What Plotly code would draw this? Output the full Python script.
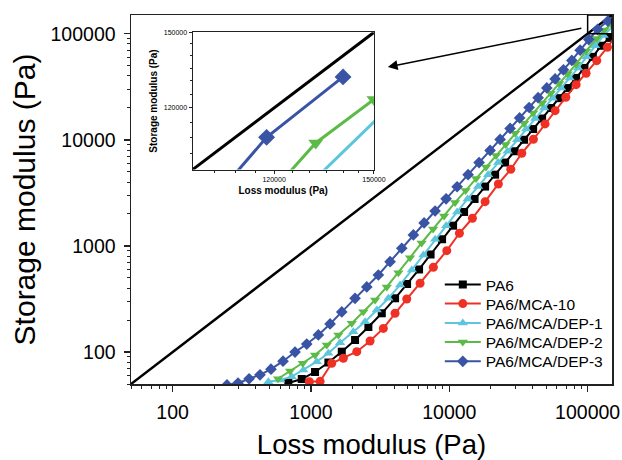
import math
import plotly.graph_objects as go

# ---------------- data ----------------
loss_pa6 = [686, 858, 1070, 1336, 1670, 2083, 2600, 3250, 4055, 4952, 6046, 7322, 8867, 10650,
            12790, 15230, 18150, 21440, 25320, 29660, 34740, 40360, 46870, 54450, 62520, 71920,
            82560, 94800, 109000, 125200, 144200, 166100]
stor_pa6 = [51.1, 55.7, 64.9, 79.7, 100.8, 129.9, 172.3, 231.9, 321.1, 437.9, 600.1, 830.6, 1156,
            1552, 2090, 2771, 3627, 4695, 6105, 7802, 10010, 12630, 15870, 19930, 24700, 30750,
            38290, 47560, 60510, 77000, 91200, 115800]

loss_mca10 = [973, 1164, 1413, 1714, 2143, 2674, 3337, 4055, 4924, 6148, 7670, 9590, 11830, 14690,
              18150, 22630, 27830, 33420, 40550, 49230, 58210, 69530, 82560, 97490, 116400, 139000,
              162000]
stor_mca10 = [52.6, 53, 78.4, 87.4, 100.8, 127, 167, 232, 316, 445, 630, 903, 1316, 1823, 2614,
              3837, 5280, 7470, 10120, 14120, 18830, 25180, 33110, 42380, 55720, 74530, 97000]

loss_dep1 = [492, 598, 726, 881, 1101, 1336, 1623, 2025, 2461, 2990, 3627, 4406, 5355, 6494, 7895,
             9480, 11390, 13560, 16150, 19080, 22530, 26390, 30920, 35920, 41720, 48460, 55840,
             64320, 74100, 85360, 98330, 113300, 130500, 171800]
stor_dep1 = [52.6, 54.5, 58.6, 67.8, 81.2, 97.3, 122.5, 155.6, 193.3, 249.2, 321.1, 428.7, 593.6,
             821.7, 1156, 1552, 2090, 2771, 3627, 4695, 6105, 7802, 10010, 12630, 15870, 19930,
             24700, 30750, 38290, 47560, 60510, 77000, 96300, 136900]

loss_dep2 = [578, 706, 872, 1070, 1301, 1578, 1972, 2392, 2907, 3532, 4284, 5204, 6304, 7636, 9170,
             11010, 13120, 15620, 18450, 21790, 25530, 29910, 34740, 40360, 46870, 54000, 62220,
             71670, 82560, 97520, 116200, 131700, 150000]
stor_dep2 = [56, 66.3, 78.4, 93.8, 116.6, 144.8, 186.7, 240.1, 309.6, 410.5, 558.5, 775.2, 1066,
             1445, 1916, 2568, 3325, 4313, 5549, 7120, 9044, 11510, 14350, 17910, 22250, 27530,
             33980, 41950, 51660, 68800, 89900, 108200, 123000]

loss_dep3 = [247, 297, 357, 428, 514, 628, 767, 932, 1131, 1374, 1670, 2083, 2532, 3070, 3731, 4533,
             5499, 6572, 7895, 9480, 11390, 13670, 16420, 19720, 23290, 27510, 32230, 37750, 43850,
             50690, 58200, 66830, 76870, 88250, 102000, 118000, 140000]
stor_dep3 = [49, 51, 56, 61, 69, 82, 100, 119, 145, 184, 239, 321, 411, 532, 711, 951, 1269, 1646,
             2135, 2777, 3611, 4695, 6105, 7938, 10080, 12790, 16080, 20150, 24970, 30820, 37460,
             45640, 56000, 70000, 88000, 110000, 131500]

series_names = ["PA6", "PA6/MCA-10", "PA6/MCA/DEP-1", "PA6/MCA/DEP-2", "PA6/MCA/DEP-3"]
series_loss = [loss_pa6, loss_mca10, loss_dep1, loss_dep2, loss_dep3]
series_stor = [stor_pa6, stor_mca10, stor_dep1, stor_dep2, stor_dep3]
series_colors = ["#000000", "#EE3124", "#5DC6DD", "#5CBA47", "#3A54A5"]
series_symbols = ["square", "circle", "triangle-up", "triangle-down", "diamond"]
series_sizes = [8, 9, 9, 9, 9]

axis_min, axis_max = 50, 150000
inset_min, inset_max = 100000, 150000
main_tickvals = [100, 1000, 10000, 100000]
main_ticktext = ["100", "1000", "10000", "100000"]
inset_tickvals = [120000, 150000]
inset_ticktext = ["120000", "150000"]
inset_minor = [105000, 110000, 115000, 125000, 130000, 135000, 140000, 145000]
main_minor = [m * 10 ** e for e in range(1, 6) for m in range(2, 10)]

FONT = "Arial, Liberation Sans, sans-serif"

fig = go.Figure()

# diagonal G' = G''
for xa, ya, w in [("x", "y", 2.5), ("x2", "y2", 3)]:
    fig.add_trace(go.Scatter(x=[axis_min, axis_max], y=[axis_min, axis_max], mode="lines",
                             line=dict(color="black", width=w), showlegend=False,
                             hoverinfo="skip", xaxis=xa, yaxis=ya))

# main series, each with its own legend row
legend_ids = ["legend", "legend2", "legend3", "legend4", "legend5"]
for i, (name, lx, ly, c, s, ms) in enumerate(zip(series_names, series_loss, series_stor,
                                                 series_colors, series_symbols, series_sizes)):
    fig.add_trace(go.Scatter(x=lx, y=ly, name=name, mode="lines+markers",
                             line=dict(color=c, width=2),
                             marker=dict(symbol=s, size=ms, color=c, line=dict(width=0)),
                             legend=legend_ids[i]))

# inset series
for name, lx, ly, c, s in zip(series_names, series_loss, series_stor, series_colors, series_symbols):
    fig.add_trace(go.Scatter(x=lx, y=ly, name=name, mode="lines+markers", showlegend=False,
                             line=dict(color=c, width=3),
                             marker=dict(symbol=s, size=13, color=c, line=dict(width=0)),
                             xaxis="x2", yaxis="y2"))

# zoom box on the main plot
fig.add_trace(go.Scatter(x=[inset_min, inset_max, inset_max, inset_min, inset_min],
                         y=[inset_min, inset_min, inset_max, inset_max, inset_min],
                         mode="lines", line=dict(color="black", width=1.5),
                         showlegend=False, hoverinfo="skip"))

axis_common = dict(type="log", showgrid=False, zeroline=False, showline=True, linecolor="#222",
                   mirror=True, ticks="outside", tickcolor="#222", automargin=False)

legend_rows_y = [0.2683, 0.2168, 0.1644, 0.1129, 0.0602]
legend_layout = {}
for lid, ly in zip(legend_ids, legend_rows_y):
    legend_layout[lid] = dict(x=0.642, y=ly, xanchor="left", yanchor="middle",
                              bgcolor="rgba(0,0,0,0)", font=dict(size=15.5, family=FONT),
                              itemwidth=36)

fig.update_layout(
    width=622, height=460,
    margin=dict(l=131, r=10, t=15, b=76, autoexpand=False),
    paper_bgcolor="white", plot_bgcolor="white",
    font=dict(family=FONT, color="black"),
    xaxis=dict(**axis_common, range=[math.log10(axis_min), math.log10(axis_max)],
               domain=[0, 1], linewidth=1.5, tickwidth=1.5, ticklen=6,
               tickmode="array", tickvals=main_tickvals, ticktext=main_ticktext,
               tickfont=dict(size=19.5, family=FONT), ticklabelstandoff=4,
               minor=dict(ticks="outside", ticklen=3, tickwidth=1, tickcolor="#222",
                          tickmode="array", tickvals=main_minor),
               title=dict(text="Loss modulus (Pa)", font=dict(size=27.5, family=FONT), standoff=13)),
    yaxis=dict(**axis_common, range=[math.log10(axis_min), math.log10(axis_max)],
               domain=[0, 1], linewidth=1.5, tickwidth=1.5, ticklen=6,
               tickmode="array", tickvals=main_tickvals, ticktext=main_ticktext,
               tickfont=dict(size=19.5, family=FONT), ticklabelstandoff=4,
               minor=dict(ticks="outside", ticklen=3, tickwidth=1, tickcolor="#222",
                          tickmode="array", tickvals=main_minor),
               title=dict(text="Storage modulus (Pa)", font=dict(size=30, family=FONT), standoff=6)),
    xaxis2=dict(**axis_common, range=[math.log10(inset_min), math.log10(inset_max)],
                domain=[0.128, 0.505], anchor="y2", linewidth=1, tickwidth=1, ticklen=3,
                tickmode="array", tickvals=inset_tickvals, ticktext=inset_ticktext,
                tickfont=dict(size=7, family=FONT),
                minor=dict(ticks="outside", ticklen=2, tickwidth=1, tickcolor="#222",
                           tickmode="array", tickvals=inset_minor),
                title=dict(text="Loss modulus (Pa)", font=dict(size=10, family=FONT, weight="bold"),
                           standoff=4)),
    yaxis2=dict(**axis_common, range=[math.log10(inset_min), math.log10(inset_max)],
                domain=[0.581, 0.953], anchor="x2", linewidth=1, tickwidth=1, ticklen=3,
                tickmode="array", tickvals=inset_tickvals, ticktext=inset_ticktext,
                tickfont=dict(size=7, family=FONT),
                minor=dict(ticks="outside", ticklen=2, tickwidth=1, tickcolor="#222",
                           tickmode="array", tickvals=inset_minor),
                title=dict(text="Storage modulus (Pa)", font=dict(size=10, family=FONT, weight="bold"),
                           standoff=4)),
    showlegend=True,
    **legend_layout,
)

# arrow pointing from the zoom box to the inset
fig.add_annotation(xref="paper", yref="paper", x=0.534, y=0.859, ax=195, ay=-39,
                   text="", showarrow=True, arrowhead=2, arrowsize=1.3, arrowwidth=1.5,
                   arrowcolor="black")

fig.write_html("out.html",
               config={"displayModeBar": False, "staticPlot": True},
               post_script="document.body.style.margin='0';document.body.style.overflow='hidden';")
